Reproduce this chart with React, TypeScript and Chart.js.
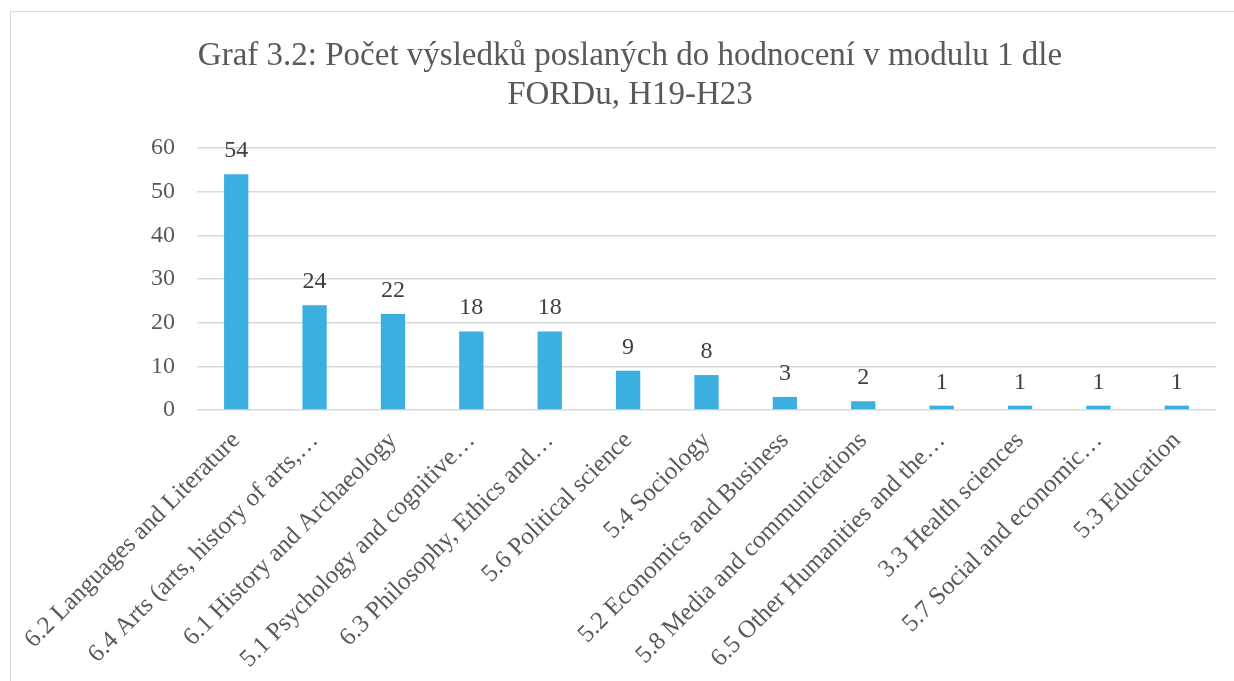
import React, { useEffect, useRef } from "react";
import { Chart, registerables } from "chart.js";

Chart.register(...registerables);

const titleLines = [
  "Graf 3.2: Počet výsledků poslaných do hodnocení v modulu 1 dle",
  "FORDu, H19-H23",
];

const categories = [
  "6.2 Languages and Literature",
  "6.4 Arts (arts, history of arts,…",
  "6.1 History and Archaeology",
  "5.1 Psychology and cognitive…",
  "6.3 Philosophy, Ethics and…",
  "5.6 Political science",
  "5.4 Sociology",
  "5.2 Economics and Business",
  "5.8 Media and communications",
  "6.5 Other Humanities and the…",
  "3.3 Health sciences",
  "5.7 Social and economic…",
  "5.3 Education",
];

const values = [54, 24, 22, 18, 18, 9, 8, 3, 2, 1, 1, 1, 1];

const yMin = 0;
const yMax = 60;
const yStep = 10;

const FONT = "'Liberation Serif', 'Times New Roman', serif";
const BAR_COLOR = "#3AAFE0";
const TEXT_COLOR = "#595959";
const LABEL_COLOR = "#404040";
const GRID_COLOR = "#d9d9d9";

const W = 1234;
const H = 681;

export default function App() {
  const ref = useRef<HTMLCanvasElement | null>(null);

  useEffect(() => {
    if (!ref.current) return;
    const overlay = {
      id: "overlay",
      afterDatasetsDraw(chart: any) {
        const ctx = chart.ctx;
        const meta = chart.getDatasetMeta(0);
        ctx.save();
        ctx.font = `24px ${FONT}`;
        ctx.fillStyle = LABEL_COLOR;
        ctx.textAlign = "center";
        ctx.textBaseline = "alphabetic";
        meta.data.forEach((bar: any, i: number) => {
          ctx.fillText(String(values[i]), bar.x, bar.y - 17);
        });
        ctx.restore();
      },
      afterDraw(chart: any) {
        const ctx = chart.ctx;
        ctx.save();
        ctx.font = `33px ${FONT}`;
        ctx.fillStyle = TEXT_COLOR;
        ctx.textAlign = "center";
        ctx.textBaseline = "alphabetic";
        titleLines.forEach((t, i) => {
          ctx.fillText(t, 630, 65 + i * 39);
        });
        ctx.restore();
      },
    };

    const chart = new Chart(ref.current, {
      type: "bar",
      data: {
        labels: categories,
        datasets: [
          {
            data: values,
            backgroundColor: BAR_COLOR,
            borderWidth: 0,
            categoryPercentage: 1,
            barPercentage: 0.31,
          },
        ],
      },
      options: {
        responsive: false,
        animation: false,
        devicePixelRatio: 1,
        layout: { padding: { top: 148, left: 0, right: 18, bottom: 0 } },
        plugins: {
          legend: { display: false },
          title: { display: false },
          tooltip: { enabled: false },
        },
        scales: {
          x: {
            grid: { display: false },
            border: { display: false },
            ticks: {
              autoSkip: false,
              minRotation: 45,
              maxRotation: 45,
              padding: 8,
              color: TEXT_COLOR,
              font: { family: FONT, size: 25 },
            },
            afterFit(s: any) {
              s.height = H - 410;
            },
          },
          y: {
            min: yMin,
            max: yMax,
            ticks: {
              stepSize: yStep,
              padding: 22,
              color: TEXT_COLOR,
              font: { family: FONT, size: 24 },
            },
            grid: { color: GRID_COLOR, lineWidth: 1.5, drawTicks: false },
            border: { display: false },
            afterFit(s: any) {
              s.width = 197;
            },
          },
        },
      },
      plugins: [overlay],
    });
    return () => chart.destroy();
  }, []);

  return (
    <div
      style={{
        position: "fixed",
        left: 0,
        top: 0,
        width: W,
        height: H,
        overflow: "hidden",
        background: "#fff",
      }}
    >
      <div
        style={{
          position: "absolute",
          left: 10,
          top: 11,
          width: 1260,
          height: 720,
          border: "1px solid #d9d9d9",
        }}
      />
      <canvas
        ref={ref}
        width={W}
        height={H}
        style={{ position: "absolute", left: 0, top: 0, width: W, height: H }}
      />
    </div>
  );
}
